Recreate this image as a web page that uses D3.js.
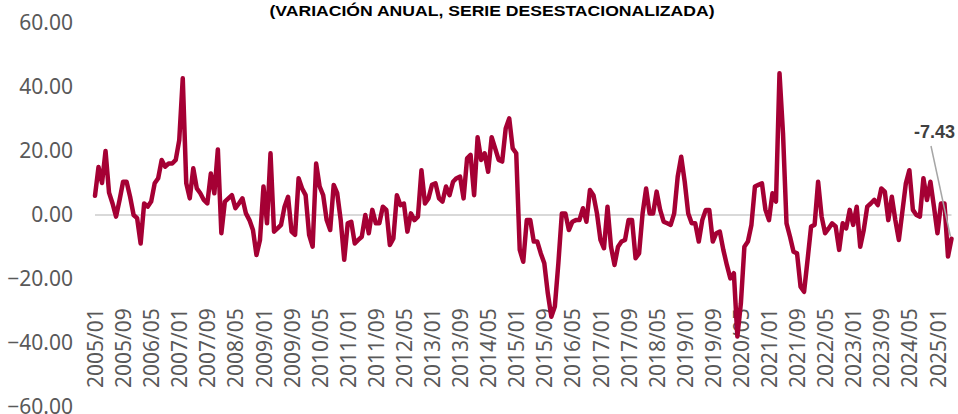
<!DOCTYPE html>
<html>
  <head>
    <meta charset=utf-8>
    <title>Variación anual</title>
    <style>
      body{ margin:0; background:#fff; }
      .tick text{ font-family:"Noto Sans", "Open Sans", sans-serif; fill:#595959; }
    </style>
  </head>
  <body>
    <script src="https://d3js.org/d3.v7.min.js"></script>
    <script>
      var width = 958, height = 414;

      // months 2005/01 .. 2025/05
      var months = d3.timeMonths(new Date(2005, 0, 1), new Date(2025, 5, 1))
        .map(d3.timeFormat("%Y/%m"));

      var values = [
        6, 15, 10, 20, 7, 3.6, -0.5, 4.7, 10.4, 10.4, 5.7, 0,
        -1, -8.9, 3.6, 2.6, 4.2, 9.9, 11.5, 17.2, 15.1, 16.1, 16.1, 17.2,
        23.4, 42.7, 9.9, 5.2, 14.6, 8.3, 6.8, 4.7, 3.6, 13, 6.8, 20.5,
        -5.7, 4.2, 5.2, 6.2, 2.1, 3.6, 5.2, 0.5, -1.6, -4.7, -12.5, -7.8,
        8.9, -2.6, 19.3, -5.2, -4.2, -3.1, 2.6, 5.7, -5.2, -6.2, 11.5, 8.3,
        6.2, -6.2, -9.9, 16.1, 8.9, 6.2, -1.6, -4.7, 9.4, 6.8, -1.6, -14,
        -2.6, -2.1, -8.9, -7.8, -6.8, 0, -5.7, 1.6, -2.6, -2.6, 2.6, 1.6,
        -9.4, -7.3, 6.2, 3.1, 3.6, -5.2, 0.5, -1.6, -0.5, 14, 3.6, 5.2,
        9.4, 9.9, 5.2, 4.2, 8.9, 6.2, 10.4, 11.5, 12, 5.2, 17.7, 18.8,
        6.2, 24.3, 17.2, 19.3, 13.5, 24.3, 20.8, 17.2, 16.7, 27, 30.2, 20.8,
        19.3, -10.9, -14.6, -1.6, -1.6, -8.3, -8.3, -12, -15.1, -24.5, -31.8, -28.6,
        -15.1, 0.5, 0.5, -4.7, -2.1, -1.6, -1.6, 2.1, -2.1, 7.8, 6.2, 0.5,
        -7.8, -10.4, 2.6, -9.9, -15.6, -9.9, -8.3, -7.8, -1.6, -1.6, -13.5, -12,
        0.5, 8.3, 0.5, 0.5, 7.3, 1.6, -2.1, -2.6, -3.1, 0.5, 12, 18.2,
        10.4, 0.5, -2.6, -2.6, -8.3, -1.6, 1.6, 1.6, -8.3, -5.7, -5.2, -10.9,
        -15.6, -19.8, -18.2, -38, -27.6, -9.9, -8.3, -3.1, 8.9, 9.4, 9.9, 1.6,
        -1.6, 6.8, 4.2, 44.3, 25.5, -2.6, -6.8, -11.5, -12, -22.4, -24, -14,
        -3.6, -3.1, 10.4, -0.5, -5.7, -4.2, -2.6, -3.6, -10.9, -2.6, -4.2, 1.6,
        -3.1, 2.6, -9.9, -4.7, 2.6, 3.6, 4.7, 3.1, 8.3, 7.3, -1.6, 5.7,
        -1.6, -7.8, 1, 9.9, 14, 1.6, 0, -0.5, 11.5, 4.7, 10.4, 2.6,
        -5.7, 3.6, 3.6, -13, -7.43
      ];

      var yTicks = [60, 40, 20, 0, -20, -40, -60];
      var xTicks = months.filter(function(d, i){ return i % 8 === 0; });
      var title = "(VARIACIÓN ANUAL, SERIE DESESTACIONALIZADA)";
      var lastLabel = "-7.43";

      var svg = d3.select("body").append("svg")
        .attr("width", width)
        .attr("height", height);

      var x = d3.scalePoint().domain(months).range([95, 951.5]);
      var y = d3.scaleLinear().domain([-60, 60]).range([407, 23]);

      // title
      svg.append("text")
        .attr("x", 492)
        .attr("y", 16)
        .attr("text-anchor", "middle")
        .attr("textLength", 445)
        .attr("lengthAdjust", "spacingAndGlyphs")
        .style("font-family", "Liberation Sans, Arial, sans-serif")
        .style("font-weight", "bold")
        .style("font-size", "15px")
        .style("fill", "#000")
        .text(title);

      // y axis labels
      var yAxis = d3.axisLeft(y).tickValues(yTicks).tickFormat(d3.format(".2f"))
        .tickSize(0).tickPadding(0);
      svg.append("g").attr("transform", "translate(73,0)").call(yAxis)
        .call(function(g){ g.select(".domain").remove(); })
        .selectAll("text").style("font-size", "21px");

      // zero line
      svg.append("line")
        .attr("x1", x.range()[0]).attr("x2", x.range()[1])
        .attr("y1", y(0)).attr("y2", y(0))
        .style("stroke", "#D9D9D9")
        .style("stroke-width", 2);

      // x axis labels, read bottom to top
      var xAxis = d3.axisBottom(x).tickValues(xTicks).tickSize(0);
      svg.append("g").attr("transform", "translate(0,388)").call(xAxis)
        .call(function(g){ g.select(".domain").remove(); })
        .selectAll("text")
          .attr("transform", "rotate(-90)")
          .attr("x", 0).attr("y", 0).attr("dy", "0.36em")
          .attr("text-anchor", "start")
          .style("font-size", "21px");

      // series
      var line = d3.line()
        .x(function(d, i){ return x(months[i]); })
        .y(function(d){ return y(d); });

      svg.append("path")
        .datum(values)
        .attr("d", line)
        .style("fill", "none")
        .style("stroke", "#A50034")
        .style("stroke-width", 4.5)
        .style("stroke-linejoin", "round")
        .style("stroke-linecap", "round");

      // last value callout
      var lx = x(months[months.length - 1]), ly = y(values[values.length - 1]);
      svg.append("line")
        .attr("x1", 931).attr("y1", 146)
        .attr("x2", lx - 1).attr("y2", ly - 2)
        .style("stroke", "#A6A6A6")
        .style("stroke-width", 1.5);

      svg.append("text")
        .attr("x", 955)
        .attr("y", 138)
        .attr("text-anchor", "end")
        .style("font-family", "Liberation Sans, Arial, sans-serif")
        .style("font-weight", "bold")
        .style("font-size", "18px")
        .style("fill", "#404040")
        .text(lastLabel);
    </script>
  </body>
</html>
